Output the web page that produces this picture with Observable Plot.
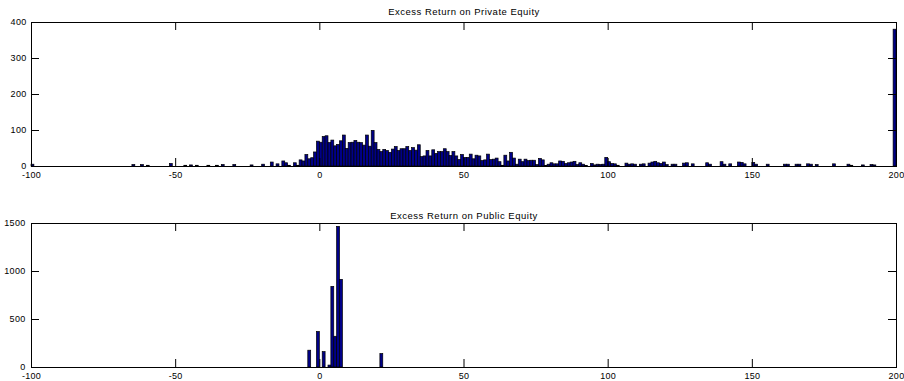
<!DOCTYPE html>
<html><head><meta charset="utf-8">
<script src="https://cdn.jsdelivr.net/npm/d3@7"></script>
<script src="https://cdn.jsdelivr.net/npm/@observablehq/plot@0.6"></script>
<style>
body{margin:0;background:#fff;}
#chart svg{display:block;}
#chart svg g[aria-label="text"] text{letter-spacing:0.5px;}
#chart svg g[aria-label="x-axis tick label"] text, #chart svg g[aria-label="y-axis tick label"] text{letter-spacing:0.3px;}
</style></head><body><div id="chart"></div>
<script>
// Excess return on private equity: histogram bin (left edge) and count
const privateBins = [-100,-65,-62,-60,-52,-47,-45,-43,-39,-36,-34,-30,-24,-20,-17,-15,-13,-12,-11,-9,-8,-7,-6,-5,-4,-3,-2,-1,
  0,1,2,3,4,5,6,7,8,9,10,11,12,13,14,15,16,17,18,19,20,21,22,23,24,25,26,27,28,29,30,31,32,33,34,35,36,37,38,39,40,41,42,43,44,45,46,47,48,49,
  50,51,52,53,54,55,56,57,58,59,60,61,62,63,64,65,66,67,68,69,70,71,72,73,74,75,76,77,78,79,80,81,82,83,84,85,86,87,88,89,90,91,92,94,95,96,97,98,99,
  100,101,102,103,106,107,108,109,111,112,114,115,116,117,118,119,120,122,123,126,127,129,134,135,139,140,142,145,146,147,
  150,151,155,161,162,165,166,169,170,172,178,183,184,188,191,192,199];
const privateCounts = [5,4,4,2,7,2,3,2,2,2,4,4,3,5,11,6,14,9,2,9,2,17,14,32,20,23,39,69,
  66,82,84,65,72,56,60,70,86,49,65,66,71,66,65,58,86,55,99,65,46,40,46,43,38,47,54,43,48,48,54,43,51,44,59,26,28,43,28,45,35,40,40,48,40,29,40,28,18,32,
  24,24,33,20,30,28,15,17,33,18,19,22,12,2,30,14,38,22,5,19,12,19,15,16,16,4,21,17,1,5,9,6,6,14,13,7,9,11,13,4,9,5,1,7,3,5,4,5,24,
  12,7,6,2,8,5,6,5,5,6,8,11,13,9,7,11,4,5,5,8,9,6,9,5,12,5,6,11,10,6,
  10,5,5,5,5,5,5,6,5,4,6,5,2,3,4,3,380];
// Excess return on public equity
const publicBins = [-4,-1,1,3,4,5,6,7,21];
const publicCounts = [175,370,160,20,840,320,1465,913,140];

const xTicks = [-100,-50,0,50,100,150,200];
const privateYTicks = [0,100,200,300,400];
const publicYTicks = [0,500,1000,1500];
const titles = ["Excess Return on Private Equity", "Excess Return on Public Equity"];

function panel({bins, counts, yMax, yTicks, title, height, marginTop, marginBottom, yPad, titleDy}) {
  const data = bins.map((b, i) => ({bin: b, count: counts[i]}));
  const W = 904, mL = 31, mR = 8, tick = 8;
  const plotH = height - marginTop - marginBottom;
  const plotW = W - mL - mR;
  return Plot.plot({
    width: W, height, marginLeft: mL, marginRight: mR, marginTop, marginBottom,
    style: {fontFamily: "'Liberation Sans', Arial, sans-serif", fontSize: "9px", color: "#000", background: "#fff", display: "block", overflow: "visible"},
    x: {domain: [-100, 200], label: null},
    y: {domain: [0, yMax], label: null},
    marks: [
      Plot.rectY(data, {x: "bin", interval: 1, y: "count", inset: 0, fill: "#000088", stroke: "#000", strokeWidth: 0.7}),
      Plot.tickX(xTicks, {x: d => d, insetTop: plotH - tick, stroke: "#000"}),
      Plot.tickX(xTicks, {x: d => d, insetBottom: plotH - tick, stroke: "#000"}),
      Plot.tickY(yTicks, {y: d => d, insetRight: plotW - tick, stroke: "#000"}),
      Plot.tickY(yTicks, {y: d => d, insetLeft: plotW - tick, stroke: "#000"}),
      Plot.frame({stroke: "#000", strokeWidth: 1}),
      Plot.axisX(xTicks, {tickSize: 0, tickPadding: 5, fontSize: 9, label: null, tickFormat: d => String(d)}),
      Plot.axisY(yTicks, {tickSize: 0, tickPadding: yPad, fontSize: 9, label: null, tickFormat: d => String(d)}),
      Plot.text([title], {frameAnchor: "top", dy: titleDy, fontSize: 9.5, fill: "#000"})
    ]
  });
}

const chart = document.getElementById("chart");
chart.append(panel({bins: privateBins, counts: privateCounts, yMax: 400, yTicks: privateYTicks, title: titles[0],
  height: 190, marginTop: 22, marginBottom: 24, yPad: 5, titleDy: -14}));
chart.append(panel({bins: publicBins, counts: publicCounts, yMax: 1500, yTicks: publicYTicks, title: titles[1],
  height: 191, marginTop: 33, marginBottom: 14, yPad: 6, titleDy: -11}));
</script></body></html>
